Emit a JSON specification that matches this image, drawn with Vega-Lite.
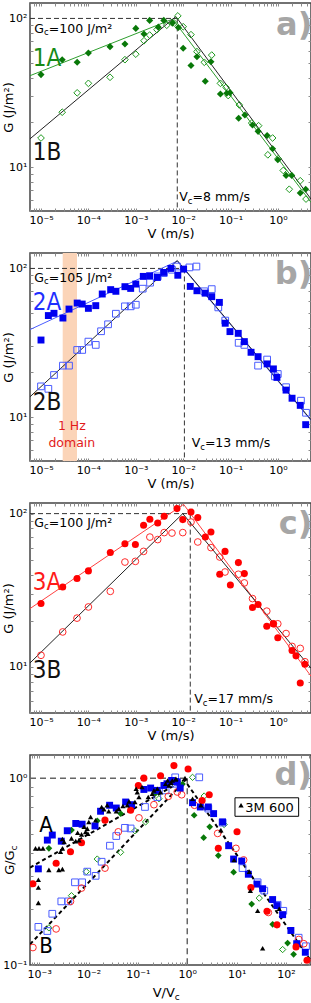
{
"$schema":"https://vega.github.io/schema/vega-lite/v6.json",
"background":"white",
"padding":{"left":1,"top":1,"right":0,"bottom":0},
"bounds":"flush",
"spacing":42,
"resolve":{"scale":{"color":"independent"}},
"config":{
 "view":{"stroke":"#444444","strokeWidth":1.5},
 "font":"DejaVu Sans",
 "axis":{"grid":false,"domain":false,"ticks":true,"tickSize":-3,"tickColor":"#8a8a8a","labelPadding":6,"labelOverlap":false,"labelFlush":false,"labelFont":"DejaVu Sans","labelFontSize":11,"labelColor":"#000000","titleFont":"DejaVu Sans","titleFontSize":13,"titleFontWeight":"normal","titleColor":"#000000"},
 "axisX":{"titlePadding":2}
},
"datasets":{
 "a":[
  {"V":1e-5,"G":41.9,"s":"A"},{"V":2.8e-5,"G":52.8,"s":"A"},{"V":5.8e-5,"G":50.7,"s":"A"},{"V":1e-4,"G":58.5,"s":"A"},{"V":2.86e-4,"G":64.6,"s":"A"},{"V":5.9e-4,"G":67.4,"s":"A"},{"V":1e-3,"G":85.7,"s":"A"},{"V":1.49e-3,"G":78.5,"s":"A"},{"V":1.96e-3,"G":97,"s":"A"},{"V":2.99e-3,"G":87.4,"s":"A"},{"V":3.9e-3,"G":97,"s":"A"},{"V":5.9e-3,"G":93,"s":"A"},{"V":7.9e-3,"G":87,"s":"A"},{"V":0.01,"G":63,"s":"A"},{"V":0.0146,"G":48.2,"s":"A"},{"V":0.0195,"G":55.3,"s":"A"},{"V":0.0292,"G":37.8,"s":"A"},{"V":0.0385,"G":51.2,"s":"A"},{"V":0.061,"G":31.0,"s":"A"},{"V":0.083,"G":31.4,"s":"A"},{"V":0.097,"G":31.7,"s":"A"},{"V":0.148,"G":21.3,"s":"A"},{"V":0.2,"G":22.4,"s":"A"},{"V":0.29,"G":19.2,"s":"A"},{"V":0.38,"G":17.4,"s":"A"},{"V":0.59,"G":16.3,"s":"A"},{"V":0.77,"G":13.3,"s":"A"},{"V":0.99,"G":11.2,"s":"A"},{"V":1.48,"G":8.8,"s":"A"},{"V":1.95,"G":8.8,"s":"A"},{"V":2.95,"G":6.7,"s":"A"},{"V":3.84,"G":7.1,"s":"A"},
  {"V":1e-5,"G":15.7,"s":"B"},{"V":2.8e-5,"G":23.4,"s":"B"},{"V":5.8e-5,"G":31.6,"s":"B"},{"V":1e-4,"G":36.6,"s":"B"},{"V":2.86e-4,"G":40.2,"s":"B"},{"V":5.9e-4,"G":52.8,"s":"B"},{"V":1e-3,"G":57.5,"s":"B"},{"V":1.49e-3,"G":70.8,"s":"B"},{"V":1.96e-3,"G":77.3,"s":"B"},{"V":2.8e-3,"G":84,"s":"B"},{"V":4.5e-3,"G":90,"s":"B"},{"V":6.5e-3,"G":93,"s":"B"},{"V":7.7e-3,"G":104,"s":"B"},{"V":0.01,"G":88,"s":"B"},{"V":0.0146,"G":77.8,"s":"B"},{"V":0.0195,"G":59.8,"s":"B"},{"V":0.0279,"G":50.7,"s":"B"},{"V":0.04,"G":56.7,"s":"B"},{"V":0.061,"G":36.6,"s":"B"},{"V":0.08,"G":34.4,"s":"B"},{"V":0.089,"G":30.3,"s":"B"},{"V":0.153,"G":26.2,"s":"B"},{"V":0.279,"G":19.8,"s":"B"},{"V":0.39,"G":19.0,"s":"B"},{"V":0.61,"G":12.1,"s":"B"},{"V":0.77,"G":15.7,"s":"B"},{"V":1.01,"G":11.4,"s":"B"},{"V":1.29,"G":9.5,"s":"B"},{"V":1.73,"G":7.1,"s":"B"},{"V":2.95,"G":8.1,"s":"B"},{"V":3.9,"G":6.1,"s":"B"}
 ],
 "b":[
  {"V":1e-5,"G":33,"s":"A"},{"V":1.43e-5,"G":48.2,"s":"A"},{"V":1.88e-5,"G":49.9,"s":"A"},{"V":2.9e-5,"G":46.4,"s":"A"},{"V":3.9e-5,"G":53.3,"s":"A"},{"V":5.8e-5,"G":58.5,"s":"A"},{"V":7.4e-5,"G":57.6,"s":"A"},{"V":1e-4,"G":53.9,"s":"A"},{"V":1.43e-4,"G":56.2,"s":"A"},{"V":1.96e-4,"G":67.3,"s":"A"},{"V":2.95e-4,"G":72,"s":"A"},{"V":3.8e-4,"G":70.2,"s":"A"},{"V":5.9e-4,"G":75.4,"s":"A"},{"V":7.8e-4,"G":73.4,"s":"A"},{"V":1e-3,"G":78.5,"s":"A"},{"V":1.44e-3,"G":88.4,"s":"A"},{"V":1.96e-3,"G":89.3,"s":"A"},{"V":2.85e-3,"G":87,"s":"A"},{"V":3.9e-3,"G":94,"s":"A"},{"V":5.5e-3,"G":100,"s":"A"},{"V":7.7e-3,"G":90,"s":"A"},{"V":0.0102,"G":99,"s":"A"},{"V":0.0141,"G":75.7,"s":"A"},{"V":0.0195,"G":70.8,"s":"A"},{"V":0.029,"G":68.2,"s":"A"},{"V":0.04,"G":64.6,"s":"A"},{"V":0.058,"G":59.1,"s":"A"},{"V":0.077,"G":42.8,"s":"A"},{"V":0.097,"G":37.6,"s":"A"},{"V":0.145,"G":36.6,"s":"A"},{"V":0.195,"G":32.2,"s":"A"},{"V":0.27,"G":27.3,"s":"A"},{"V":0.38,"G":25.5,"s":"A"},{"V":0.59,"G":22.8,"s":"A"},{"V":0.8,"G":21.1,"s":"A"},{"V":0.95,"G":18.5,"s":"A"},{"V":1.48,"G":15.2,"s":"A"},{"V":1.98,"G":13.4,"s":"A"},{"V":2.95,"G":12.0,"s":"A"},{"V":3.84,"G":8.9,"s":"A"},
  {"V":1e-5,"G":16.1,"s":"B"},{"V":1.43e-5,"G":15.5,"s":"B"},{"V":1.88e-5,"G":19.2,"s":"B"},{"V":2.9e-5,"G":22.2,"s":"B"},{"V":3.9e-5,"G":22.2,"s":"B"},{"V":5.8e-5,"G":28.3,"s":"B"},{"V":7.4e-5,"G":28.3,"s":"B"},{"V":1e-4,"G":32.2,"s":"B"},{"V":1.43e-4,"G":30.6,"s":"B"},{"V":1.85e-4,"G":37.8,"s":"B"},{"V":2.6e-4,"G":42.1,"s":"B"},{"V":3.8e-4,"G":49.6,"s":"B"},{"V":5.9e-4,"G":55.6,"s":"B"},{"V":7.8e-4,"G":55.6,"s":"B"},{"V":1e-3,"G":57,"s":"B"},{"V":1.4e-3,"G":73.1,"s":"B"},{"V":2.0e-3,"G":80.2,"s":"B"},{"V":2.9e-3,"G":88.4,"s":"B"},{"V":3.9e-3,"G":93,"s":"B"},{"V":5.8e-3,"G":98,"s":"B"},{"V":7.4e-3,"G":103,"s":"B"},{"V":0.0135,"G":101.6,"s":"B"},{"V":0.019,"G":103,"s":"B"},{"V":0.028,"G":70.2,"s":"B"},{"V":0.04,"G":72.6,"s":"B"},{"V":0.055,"G":54.7,"s":"B"},{"V":0.077,"G":44.6,"s":"B"},{"V":0.148,"G":31.6,"s":"B"},{"V":0.195,"G":30.6,"s":"B"},{"V":0.38,"G":22.2,"s":"B"},{"V":0.59,"G":24.4,"s":"B"},{"V":0.86,"G":18.8,"s":"B"},{"V":0.99,"G":19.5,"s":"B"},{"V":1.48,"G":15.9,"s":"B"},{"V":3.05,"G":12.9,"s":"B"},{"V":3.9,"G":10.7,"s":"B"}
 ],
 "c":[
  {"V":1e-5,"G":25.9,"s":"A"},{"V":2.87e-5,"G":33.2,"s":"A"},{"V":5.75e-5,"G":37.7,"s":"A"},{"V":1e-4,"G":42.3,"s":"A"},{"V":2.9e-4,"G":55.7,"s":"A"},{"V":5.9e-4,"G":63.6,"s":"A"},{"V":9.8e-4,"G":62.8,"s":"A"},{"V":1.46e-3,"G":83.9,"s":"A"},{"V":1.98e-3,"G":91.8,"s":"A"},{"V":2.9e-3,"G":86.9,"s":"A"},{"V":3.97e-3,"G":96,"s":"A"},{"V":7.4e-3,"G":107.8,"s":"A"},{"V":9.8e-3,"G":91.4,"s":"A"},{"V":0.0146,"G":102.4,"s":"A"},{"V":0.0203,"G":94.2,"s":"A"},{"V":0.0293,"G":70.3,"s":"A"},{"V":0.0385,"G":75.9,"s":"A"},{"V":0.059,"G":40.2,"s":"A"},{"V":0.0763,"G":56.7,"s":"A"},{"V":0.099,"G":34.2,"s":"A"},{"V":0.146,"G":47.9,"s":"A"},{"V":0.195,"G":40.6,"s":"A"},{"V":0.29,"G":24.4,"s":"A"},{"V":0.38,"G":25.5,"s":"A"},{"V":0.58,"G":18.4,"s":"A"},{"V":0.8,"G":19.1,"s":"A"},{"V":0.99,"G":15.5,"s":"A"},{"V":1.98,"G":12.8,"s":"A"},{"V":2.4,"G":11.8,"s":"A"},{"V":2.95,"G":7.85,"s":"A"},{"V":3.7,"G":10.4,"s":"A"},
  {"V":1e-5,"G":11.9,"s":"B"},{"V":2.87e-5,"G":16.9,"s":"B"},{"V":5.75e-5,"G":20.8,"s":"B"},{"V":1e-4,"G":24.6,"s":"B"},{"V":2.9e-4,"G":31.1,"s":"B"},{"V":5.9e-4,"G":48.3,"s":"B"},{"V":9.8e-4,"G":48.8,"s":"B"},{"V":1.46e-3,"G":56.7,"s":"B"},{"V":1.98e-3,"G":70.3,"s":"B"},{"V":2.9e-3,"G":67.7,"s":"B"},{"V":3.97e-3,"G":75.2,"s":"B"},{"V":5.8e-3,"G":74.7,"s":"B"},{"V":9.8e-3,"G":75.2,"s":"B"},{"V":0.0146,"G":88.1,"s":"B"},{"V":0.0203,"G":65.3,"s":"B"},{"V":0.0385,"G":60,"s":"B"},{"V":0.059,"G":52.1,"s":"B"},{"V":0.0763,"G":41.6,"s":"B"},{"V":0.146,"G":40.2,"s":"B"},{"V":0.195,"G":35.3,"s":"B"},{"V":0.29,"G":27.9,"s":"B"},{"V":0.58,"G":23.1,"s":"B"},{"V":0.8,"G":19.1,"s":"B"},{"V":0.99,"G":19.1,"s":"B"},{"V":1.48,"G":16.5,"s":"B"},{"V":1.98,"G":13.6,"s":"B"},{"V":2.95,"G":13.2,"s":"B"},{"V":3.7,"G":10.8,"s":"B"}
 ],
 "d":[
  {"V":1.57e-3,"G":0.421,"s":"1A"},{"V":4.5e-3,"G":0.527,"s":"1A"},{"V":0.015,"G":0.591,"s":"1A"},{"V":0.0446,"G":0.646,"s":"1A"},{"V":0.229,"G":0.832,"s":"1A"},{"V":0.5,"G":0.95,"s":"1A"},{"V":0.8,"G":0.93,"s":"1A"},{"V":1.38,"G":0.633,"s":"1A"},{"V":2.15,"G":0.48,"s":"1A"},{"V":2.85,"G":0.549,"s":"1A"},{"V":4.26,"G":0.385,"s":"1A"},{"V":8.7,"G":0.314,"s":"1A"},{"V":20.2,"G":0.212,"s":"1A"},{"V":53.8,"G":0.165,"s":"1A"},{"V":108,"G":0.131,"s":"1A"},{"V":143,"G":0.114,"s":"1A"},
  {"V":1.57e-3,"G":0.158,"s":"1B"},{"V":4.5e-3,"G":0.235,"s":"1B"},{"V":8.97e-3,"G":0.316,"s":"1B"},{"V":0.015,"G":0.369,"s":"1B"},{"V":0.0446,"G":0.401,"s":"1B"},{"V":0.087,"G":0.523,"s":"1B"},{"V":0.143,"G":0.583,"s":"1B"},{"V":0.267,"G":0.776,"s":"1B"},{"V":0.7,"G":0.93,"s":"1B"},{"V":1.28,"G":1.01,"s":"1B"},{"V":2.2,"G":0.802,"s":"1B"},{"V":5.6,"G":0.565,"s":"1B"},{"V":28.8,"G":0.228,"s":"1B"},{"V":85.7,"G":0.121,"s":"1B"},
  {"V":9.6e-4,"G":0.327,"s":"2A"},{"V":1.46e-3,"G":0.466,"s":"2A"},{"V":1.84e-3,"G":0.496,"s":"2A"},{"V":2.8e-3,"G":0.46,"s":"2A"},{"V":3.7e-3,"G":0.523,"s":"2A"},{"V":5.5e-3,"G":0.572,"s":"2A"},{"V":7.4e-3,"G":0.567,"s":"2A"},{"V":0.0135,"G":0.555,"s":"2A"},{"V":0.0175,"G":0.665,"s":"2A"},{"V":0.0267,"G":0.716,"s":"2A"},{"V":0.0364,"G":0.692,"s":"2A"},{"V":0.0564,"G":0.745,"s":"2A"},{"V":0.0745,"G":0.721,"s":"2A"},{"V":0.132,"G":0.87,"s":"2A"},{"V":0.181,"G":0.885,"s":"2A"},{"V":0.247,"G":0.86,"s":"2A"},{"V":0.337,"G":0.914,"s":"2A"},{"V":0.388,"G":0.933,"s":"2A"},{"V":0.482,"G":0.972,"s":"2A"},{"V":0.59,"G":0.96,"s":"2A"},{"V":0.628,"G":0.952,"s":"2A"},{"V":0.72,"G":0.885,"s":"2A"},{"V":1.28,"G":0.739,"s":"2A"},{"V":1.84,"G":0.701,"s":"2A"},{"V":2.67,"G":0.701,"s":"2A"},{"V":3.42,"G":0.646,"s":"2A"},{"V":5.2,"G":0.583,"s":"2A"},{"V":6.9,"G":0.435,"s":"2A"},{"V":8.7,"G":0.369,"s":"2A"},{"V":12.7,"G":0.36,"s":"2A"},{"V":17.3,"G":0.306,"s":"2A"},{"V":25.9,"G":0.271,"s":"2A"},{"V":33.7,"G":0.256,"s":"2A"},{"V":53.7,"G":0.224,"s":"2A"},{"V":65.8,"G":0.208,"s":"2A"},{"V":85.7,"G":0.186,"s":"2A"},{"V":126,"G":0.153,"s":"2A"},{"V":165,"G":0.13,"s":"2A"},{"V":247,"G":0.117,"s":"2A"},
  {"V":9.6e-4,"G":0.16,"s":"2B"},{"V":1.46e-3,"G":0.152,"s":"2B"},{"V":1.84e-3,"G":0.188,"s":"2B"},{"V":2.8e-3,"G":0.219,"s":"2B"},{"V":3.9e-3,"G":0.219,"s":"2B"},{"V":5.3e-3,"G":0.277,"s":"2B"},{"V":7.4e-3,"G":0.277,"s":"2B"},{"V":9.4e-3,"G":0.316,"s":"2B"},{"V":0.0139,"G":0.3,"s":"2B"},{"V":0.0184,"G":0.357,"s":"2B"},{"V":0.0271,"G":0.435,"s":"2B"},{"V":0.0364,"G":0.49,"s":"2B"},{"V":0.0546,"G":0.542,"s":"2B"},{"V":0.0711,"G":0.538,"s":"2B"},{"V":0.139,"G":0.701,"s":"2B"},{"V":0.247,"G":0.792,"s":"2B"},{"V":0.364,"G":0.86,"s":"2B"},{"V":0.57,"G":1.01,"s":"2B"},{"V":0.58,"G":0.933,"s":"2B"},{"V":1.75,"G":1.01,"s":"2B"},{"V":2.67,"G":0.687,"s":"2B"},{"V":5.2,"G":0.578,"s":"2B"},{"V":13.2,"G":0.33,"s":"2B"},{"V":26.7,"G":0.277,"s":"2B"},{"V":36.4,"G":0.25,"s":"2B"},{"V":67.8,"G":0.21,"s":"2B"},{"V":88.3,"G":0.195,"s":"2B"},{"V":181,"G":0.14,"s":"2B"},{"V":255,"G":0.126,"s":"2B"},
  {"V":7.45e-4,"G":0.272,"s":"3A"},{"V":2.2e-3,"G":0.35,"s":"3A"},{"V":4.3e-3,"G":0.404,"s":"3A"},{"V":7.2e-3,"G":0.451,"s":"3A"},{"V":0.0215,"G":0.596,"s":"3A"},{"V":0.0711,"G":0.673,"s":"3A"},{"V":0.102,"G":0.914,"s":"3A"},{"V":0.132,"G":1.0,"s":"3A"},{"V":0.288,"G":1.03,"s":"3A"},{"V":0.537,"G":1.167,"s":"3A"},{"V":1.04,"G":1.12,"s":"3A"},{"V":2.0,"G":0.76,"s":"3A"},{"V":2.79,"G":0.815,"s":"3A"},{"V":4.26,"G":0.421,"s":"3A"},{"V":10.2,"G":0.516,"s":"3A"},{"V":19.5,"G":0.26,"s":"3A"},{"V":41.3,"G":0.194,"s":"3A"},{"V":65.8,"G":0.164,"s":"3A"},{"V":160,"G":0.125,"s":"3A"},{"V":267,"G":0.106,"s":"3A"},
  {"V":7.45e-4,"G":0.124,"s":"3B"},{"V":2.2e-3,"G":0.156,"s":"3B"},{"V":4.3e-3,"G":0.219,"s":"3B"},{"V":7.2e-3,"G":0.258,"s":"3B"},{"V":0.0215,"G":0.33,"s":"3B"},{"V":0.04,"G":0.516,"s":"3B"},{"V":0.105,"G":0.613,"s":"3B"},{"V":0.211,"G":0.721,"s":"3B"},{"V":0.413,"G":0.799,"s":"3B"},{"V":0.628,"G":0.843,"s":"3B"},{"V":0.77,"G":0.815,"s":"3B"},{"V":1.4,"G":0.716,"s":"3B"},{"V":4.13,"G":0.506,"s":"3B"},{"V":9.7,"G":0.421,"s":"3B"},{"V":13.9,"G":0.365,"s":"3B"},{"V":44,"G":0.191,"s":"3B"},{"V":182,"G":0.137,"s":"3B"},{"V":230,"G":0.13,"s":"3B"},
  {"V":8.4e-4,"G":0.421,"s":"M"},{"V":9.9e-4,"G":0.421,"s":"M"},{"V":1.19e-3,"G":0.421,"s":"M"},{"V":9.6e-4,"G":0.286,"s":"M"},{"V":9.6e-4,"G":0.26,"s":"M"},{"V":9.6e-4,"G":0.215,"s":"M"},{"V":1.57e-3,"G":0.323,"s":"M"},{"V":2.5e-3,"G":0.323,"s":"M"},{"V":2.95e-3,"G":0.326,"s":"M"},{"V":2.7e-3,"G":0.404,"s":"M"},{"V":2.95e-3,"G":0.421,"s":"M"},{"V":3.2e-3,"G":0.456,"s":"M"},{"V":2.95e-3,"G":0.472,"s":"M"},{"V":4.5e-3,"G":0.476,"s":"M"},{"V":5.5e-3,"G":0.46,"s":"M"},{"V":6.4e-3,"G":0.466,"s":"M"},{"V":6.0e-3,"G":0.51,"s":"M"},{"V":7.2e-3,"G":0.5,"s":"M"},{"V":8.1e-3,"G":0.549,"s":"M"},{"V":9.4e-3,"G":0.537,"s":"M"},{"V":8.7e-3,"G":0.516,"s":"M"},{"V":9.7e-3,"G":0.505,"s":"M"},{"V":0.0101,"G":0.583,"s":"M"},{"V":0.011,"G":0.62,"s":"M"},{"V":0.0139,"G":0.595,"s":"M"},{"V":0.0184,"G":0.701,"s":"M"},{"V":0.0205,"G":0.681,"s":"M"},{"V":0.0238,"G":0.716,"s":"M"},{"V":0.0256,"G":0.665,"s":"M"},{"V":0.0364,"G":0.665,"s":"M"},{"V":0.041,"G":0.686,"s":"M"},{"V":0.0497,"G":0.71,"s":"M"},{"V":0.061,"G":0.716,"s":"M"},{"V":0.066,"G":0.751,"s":"M"},{"V":0.087,"G":0.745,"s":"M"},{"V":0.097,"G":0.842,"s":"M"},{"V":0.105,"G":0.792,"s":"M"},{"V":0.092,"G":0.877,"s":"M"},{"V":0.121,"G":0.896,"s":"M"},{"V":0.162,"G":0.792,"s":"M"},{"V":0.195,"G":0.825,"s":"M"},{"V":0.211,"G":0.86,"s":"M"},{"V":0.247,"G":0.877,"s":"M"},{"V":0.288,"G":0.842,"s":"M"},{"V":0.364,"G":0.933,"s":"M"},{"V":0.425,"G":0.914,"s":"M"},{"V":0.497,"G":0.972,"s":"M"},{"V":0.58,"G":0.984,"s":"M"},{"V":0.4,"G":0.972,"s":"M"},{"V":0.468,"G":0.944,"s":"M"},{"V":0.59,"G":0.992,"s":"M"},{"V":0.9,"G":1.0,"s":"M"},{"V":1.28,"G":0.776,"s":"M"},{"V":1.89,"G":0.716,"s":"M"},{"V":4.8,"G":0.527,"s":"M"},{"V":8.9,"G":0.365,"s":"M"},{"V":18.1,"G":0.316,"s":"M"},{"V":19,"G":0.25,"s":"M"},{"V":26.7,"G":0.195,"s":"M"},{"V":33.7,"G":0.123,"s":"M"},{"V":73,"G":0.2,"s":"M"}
 ]
},
"vconcat":[
 {
  "width":281,"height":208,
  "resolve":{"axis":{"x":"independent","y":"independent"}},
  "layer":[
  {
  "encoding":{
   "x":{"field":"V","type":"quantitative","scale":{"type":"log","domain":[5.86e-6,4.97],"nice":false},"axis":{"values":[6e-6,7e-6,8e-6,9e-6,1e-5,2e-5,3e-5,4e-5,5e-5,6e-5,7e-5,8e-5,9e-5,1e-4,2e-4,3e-4,4e-4,5e-4,6e-4,7e-4,8e-4,9e-4,0.001,0.002,0.003,0.004,0.005,0.006,0.007,0.008,0.009,0.01,0.02,0.03,0.04,0.05,0.06,0.07,0.08,0.09,0.1,0.2,0.3,0.4,0.5,0.6,0.7,0.8,0.9,1,2,3,4],"labelExpr":"abs(log(datum.value)/LN10-round(log(datum.value)/LN10))<0.001 ? '10'+replace(replace(replace(replace(replace(replace(replace(''+round(log(datum.value)/LN10),'-','⁻'),'0','⁰'),'1','¹'),'2','²'),'3','³'),'4','⁴'),'5','⁵') : ''","title":"V (m/s)"}},
   "y":{"field":"G","type":"quantitative","scale":{"type":"log","domain":[5.07,127],"nice":false},"axis":{"values":[6,7,8,9,10,20,30,40,50,60,70,80,90,100],"labelExpr":"abs(log(datum.value)/LN10-round(log(datum.value)/LN10))<0.001 ? '10'+replace(replace(replace(replace(replace(replace(replace(''+round(log(datum.value)/LN10),'-','⁻'),'0','⁰'),'1','¹'),'2','²'),'3','³'),'4','⁴'),'5','⁵') : ''","title":"G (J/m²)","titleX":-15}}
  },
  "layer":[
   {"data":{"values":[{"V":5.86e-6,"G":100,"g":"h"},{"V":0.0075,"G":100,"g":"h"},{"V":0.0075,"G":100,"g":"v"},{"V":0.0075,"G":5.07,"g":"v"}]},"mark":{"type":"line","color":"#333333","strokeDash":[5,3],"strokeWidth":1,"clip":true},"encoding":{"detail":{"field":"g"}}},
   {"data":{"values":[{"V":5.86e-6,"G":41.2,"s":"A1"},{"V":0.006,"G":99,"s":"A1"},{"V":4.97,"G":5.8,"s":"A1"},{"V":5.86e-6,"G":15.5,"s":"B1"},{"V":0.007,"G":103,"s":"B1"},{"V":4.97,"G":6.1,"s":"B1"}]},"mark":{"type":"line","strokeWidth":1,"clip":true},"encoding":{"color":{"field":"s","type":"nominal","scale":{"domain":["A1","B1"],"range":["#2e9e2e","#222222"]},"legend":null}}},
   {"data":{"name":"a"},"transform":[{"filter":"datum.s=='B'"}],"mark":{"type":"point","shape":"diamond","filled":false,"stroke":"#1f9a1f","strokeWidth":1,"size":45,"opacity":1,"clip":true}},
   {"data":{"name":"a"},"transform":[{"filter":"datum.s=='A'"}],"mark":{"type":"point","shape":"diamond","filled":true,"color":"#087808","size":50,"opacity":1,"clip":true}},
   {"data":{"values":[{"V":7.22e-6,"G":79.6,"t":"G"},{"V":1.462e-5,"G":79.6,"t":"=100 J/m²"},{"V":8.28e-3,"G":5.89,"t":"V"},{"V":0.0157,"G":5.89,"t":"=8 mm/s"}]},"mark":{"type":"text","align":"left","baseline":"alphabetic","fontSize":12.5,"color":"#000000"},"encoding":{"text":{"field":"t"}}},
   {"data":{"values":[{"V":1.157e-5,"G":76.9,"t":"c"},{"V":0.01253,"G":5.69,"t":"c"}]},"mark":{"type":"text","align":"left","baseline":"alphabetic","fontSize":8.5,"color":"#000000"},"encoding":{"text":{"field":"t"}}},
   {"data":{"values":[{"V":6.68e-6,"G":47.6,"t":"1A"}]},"mark":{"type":"text","align":"left","baseline":"alphabetic","fontSize":24,"color":"#168a16","font":"Liberation Sans Narrow, DejaVu Sans Condensed, sans-serif"},"encoding":{"text":{"field":"t"}}},
   {"data":{"values":[{"V":6.68e-6,"G":11.1,"t":"1B"}]},"mark":{"type":"text","align":"left","baseline":"alphabetic","fontSize":24,"color":"#111111","font":"Liberation Sans Narrow, DejaVu Sans Condensed, sans-serif"},"encoding":{"text":{"field":"t"}}},
   {"data":{"values":[{"V":5.3,"G":76.9,"t":"a)"}]},"mark":{"type":"text","align":"right","baseline":"alphabetic","fontSize":32,"fontWeight":"bold","color":"#a6a6a6","clip":true},"encoding":{"text":{"field":"t"}}}
  ]
  },
  {"data":{"values":[{"V":0.01,"G":10}]},"mark":{"type":"point","opacity":0},"encoding":{
   "x":{"field":"V","type":"quantitative","scale":{"type":"log","domain":[5.86e-6,4.97],"nice":false},"axis":{"orient":"top","labels":false,"title":null,"values":[6e-6,7e-6,8e-6,9e-6,1e-5,2e-5,3e-5,4e-5,5e-5,6e-5,7e-5,8e-5,9e-5,1e-4,2e-4,3e-4,4e-4,5e-4,6e-4,7e-4,8e-4,9e-4,0.001,0.002,0.003,0.004,0.005,0.006,0.007,0.008,0.009,0.01,0.02,0.03,0.04,0.05,0.06,0.07,0.08,0.09,0.1,0.2,0.3,0.4,0.5,0.6,0.7,0.8,0.9,1,2,3,4]}},
   "y":{"field":"G","type":"quantitative","scale":{"type":"log","domain":[5.07,127],"nice":false},"axis":{"orient":"right","labels":false,"title":null,"values":[6,7,8,9,10,20,30,40,50,60,70,80,90,100]}}}}
  ]
 },
 {
  "width":281,"height":208,
  "resolve":{"axis":{"x":"independent","y":"independent"}},
  "layer":[
  {
  "encoding":{
   "x":{"field":"V","type":"quantitative","scale":{"type":"log","domain":[5.86e-6,4.97],"nice":false},"axis":{"values":[6e-6,7e-6,8e-6,9e-6,1e-5,2e-5,3e-5,4e-5,5e-5,6e-5,7e-5,8e-5,9e-5,1e-4,2e-4,3e-4,4e-4,5e-4,6e-4,7e-4,8e-4,9e-4,0.001,0.002,0.003,0.004,0.005,0.006,0.007,0.008,0.009,0.01,0.02,0.03,0.04,0.05,0.06,0.07,0.08,0.09,0.1,0.2,0.3,0.4,0.5,0.6,0.7,0.8,0.9,1,2,3,4],"labelExpr":"abs(log(datum.value)/LN10-round(log(datum.value)/LN10))<0.001 ? '10'+replace(replace(replace(replace(replace(replace(replace(''+round(log(datum.value)/LN10),'-','⁻'),'0','⁰'),'1','¹'),'2','²'),'3','³'),'4','⁴'),'5','⁵') : ''","title":"V (m/s)"}},
   "y":{"field":"G","type":"quantitative","scale":{"type":"log","domain":[5.07,127],"nice":false},"axis":{"values":[6,7,8,9,10,20,30,40,50,60,70,80,90,100],"labelExpr":"abs(log(datum.value)/LN10-round(log(datum.value)/LN10))<0.001 ? '10'+replace(replace(replace(replace(replace(replace(replace(''+round(log(datum.value)/LN10),'-','⁻'),'0','⁰'),'1','¹'),'2','²'),'3','³'),'4','⁴'),'5','⁵') : ''","title":"G (J/m²)","titleX":-15}}
  },
  "layer":[
   {"data":{"values":[{"V":2.87e-5,"V2":5.75e-5,"G":5.07,"G2":127}]},"mark":{"type":"rect","color":"#fbd4b8","opacity":1},"encoding":{"x2":{"field":"V2"},"y2":{"field":"G2"}}},
   {"data":{"values":[{"V":5.86e-6,"G":100,"g":"h"},{"V":0.0106,"G":100,"g":"h"},{"V":0.0106,"G":100,"g":"v"},{"V":0.0106,"G":5.07,"g":"v"}]},"mark":{"type":"line","color":"#333333","strokeDash":[5,3],"strokeWidth":1,"clip":true},"encoding":{"detail":{"field":"g"}}},
   {"data":{"values":[{"V":5.86e-6,"G":38.8,"s":"A2"},{"V":0.0075,"G":112,"s":"A2"},{"V":4.97,"G":9.5,"s":"A2"},{"V":5.86e-6,"G":13.7,"s":"B2"},{"V":0.0075,"G":113,"s":"B2"},{"V":4.97,"G":9.6,"s":"B2"}]},"mark":{"type":"line","strokeWidth":1,"clip":true},"encoding":{"color":{"field":"s","type":"nominal","scale":{"domain":["A2","B2"],"range":["#4a5cff","#222222"]},"legend":null}}},
   {"data":{"name":"b"},"transform":[{"filter":"datum.s=='B'"}],"mark":{"type":"point","shape":"square","filled":false,"stroke":"#4a5cff","strokeWidth":1,"size":45,"opacity":1,"clip":true}},
   {"data":{"name":"b"},"transform":[{"filter":"datum.s=='A'"}],"mark":{"type":"point","shape":"square","filled":true,"color":"#0000f0","size":48,"opacity":1,"clip":true}},
   {"data":{"values":[{"V":7.22e-6,"G":81.0,"t":"G"},{"V":1.462e-5,"G":81.0,"t":"=105 J/m²"},{"V":0.0151,"G":6.27,"t":"V"},{"V":0.0287,"G":6.27,"t":"=13 mm/s"}]},"mark":{"type":"text","align":"left","baseline":"alphabetic","fontSize":12.5,"color":"#000000"},"encoding":{"text":{"field":"t"}}},
   {"data":{"values":[{"V":1.157e-5,"G":78.2,"t":"c"},{"V":0.0229,"G":6.05,"t":"c"}]},"mark":{"type":"text","align":"left","baseline":"alphabetic","fontSize":8.5,"color":"#000000"},"encoding":{"text":{"field":"t"}}},
   {"data":{"values":[{"V":4.47e-5,"G":8.18,"t":"1 Hz"},{"V":4.47e-5,"G":6.27,"t":"domain"}]},"mark":{"type":"text","align":"center","baseline":"alphabetic","fontSize":12.5,"color":"#e21a1a"},"encoding":{"text":{"field":"t"}}},
   {"data":{"values":[{"V":6.68e-6,"G":52.3,"t":"2A"}]},"mark":{"type":"text","align":"left","baseline":"alphabetic","fontSize":24,"color":"#1f2fff","font":"Liberation Sans Narrow, DejaVu Sans Condensed, sans-serif"},"encoding":{"text":{"field":"t"}}},
   {"data":{"values":[{"V":6.68e-6,"G":11.1,"t":"2B"}]},"mark":{"type":"text","align":"left","baseline":"alphabetic","fontSize":24,"color":"#111111","font":"Liberation Sans Narrow, DejaVu Sans Condensed, sans-serif"},"encoding":{"text":{"field":"t"}}},
   {"data":{"values":[{"V":5.3,"G":78.9,"t":"b)"}]},"mark":{"type":"text","align":"right","baseline":"alphabetic","fontSize":32,"fontWeight":"bold","color":"#a6a6a6","clip":true},"encoding":{"text":{"field":"t"}}}
  ]
  },
  {"data":{"values":[{"V":0.01,"G":10}]},"mark":{"type":"point","opacity":0},"encoding":{
   "x":{"field":"V","type":"quantitative","scale":{"type":"log","domain":[5.86e-6,4.97],"nice":false},"axis":{"orient":"top","labels":false,"title":null,"values":[6e-6,7e-6,8e-6,9e-6,1e-5,2e-5,3e-5,4e-5,5e-5,6e-5,7e-5,8e-5,9e-5,1e-4,2e-4,3e-4,4e-4,5e-4,6e-4,7e-4,8e-4,9e-4,0.001,0.002,0.003,0.004,0.005,0.006,0.007,0.008,0.009,0.01,0.02,0.03,0.04,0.05,0.06,0.07,0.08,0.09,0.1,0.2,0.3,0.4,0.5,0.6,0.7,0.8,0.9,1,2,3,4]}},
   "y":{"field":"G","type":"quantitative","scale":{"type":"log","domain":[5.07,127],"nice":false},"axis":{"orient":"right","labels":false,"title":null,"values":[6,7,8,9,10,20,30,40,50,60,70,80,90,100]}}}}
  ]
 },
 {
  "width":281,"height":210,
  "resolve":{"axis":{"x":"independent","y":"independent"}},
  "layer":[
  {
  "encoding":{
   "x":{"field":"V","type":"quantitative","scale":{"type":"log","domain":[5.86e-6,4.97],"nice":false},"axis":{"values":[6e-6,7e-6,8e-6,9e-6,1e-5,2e-5,3e-5,4e-5,5e-5,6e-5,7e-5,8e-5,9e-5,1e-4,2e-4,3e-4,4e-4,5e-4,6e-4,7e-4,8e-4,9e-4,0.001,0.002,0.003,0.004,0.005,0.006,0.007,0.008,0.009,0.01,0.02,0.03,0.04,0.05,0.06,0.07,0.08,0.09,0.1,0.2,0.3,0.4,0.5,0.6,0.7,0.8,0.9,1,2,3,4],"labelExpr":"abs(log(datum.value)/LN10-round(log(datum.value)/LN10))<0.001 ? '10'+replace(replace(replace(replace(replace(replace(replace(''+round(log(datum.value)/LN10),'-','⁻'),'0','⁰'),'1','¹'),'2','²'),'3','³'),'4','⁴'),'5','⁵') : ''","title":"V (m/s)"}},
   "y":{"field":"G","type":"quantitative","scale":{"type":"log","domain":[5.0,117.3],"nice":false},"axis":{"values":[6,7,8,9,10,20,30,40,50,60,70,80,90,100],"labelExpr":"abs(log(datum.value)/LN10-round(log(datum.value)/LN10))<0.001 ? '10'+replace(replace(replace(replace(replace(replace(replace(''+round(log(datum.value)/LN10),'-','⁻'),'0','⁰'),'1','¹'),'2','²'),'3','³'),'4','⁴'),'5','⁵') : ''","title":"G (J/m²)","titleX":-15}}
  },
  "layer":[
   {"data":{"values":[{"V":5.86e-6,"G":100,"g":"h"},{"V":0.0141,"G":100,"g":"h"},{"V":0.0141,"G":100,"g":"v"},{"V":0.0141,"G":5.0,"g":"v"}]},"mark":{"type":"line","color":"#333333","strokeDash":[5,3],"strokeWidth":1,"clip":true},"encoding":{"detail":{"field":"g"}}},
   {"data":{"values":[{"V":5.86e-6,"G":24,"s":"A3"},{"V":0.0102,"G":115,"s":"A3"},{"V":4.97,"G":8.7,"s":"A3"},{"V":5.86e-6,"G":10.6,"s":"B3"},{"V":0.0098,"G":100,"s":"B3"},{"V":4.97,"G":9.8,"s":"B3"}]},"mark":{"type":"line","strokeWidth":1,"clip":true},"encoding":{"color":{"field":"s","type":"nominal","scale":{"domain":["A3","B3"],"range":["#ff4040","#222222"]},"legend":null}}},
   {"data":{"name":"c"},"transform":[{"filter":"datum.s=='B'"}],"mark":{"type":"point","shape":"circle","filled":false,"stroke":"#ff2a2a","strokeWidth":1,"size":45,"opacity":1,"clip":true}},
   {"data":{"name":"c"},"transform":[{"filter":"datum.s=='A'"}],"mark":{"type":"point","shape":"circle","filled":true,"color":"#ff0000","size":50,"opacity":1,"clip":true}},
   {"data":{"values":[{"V":7.22e-6,"G":81.8,"t":"G"},{"V":1.462e-5,"G":81.8,"t":"=100 J/m²"},{"V":0.01714,"G":5.77,"t":"V"},{"V":0.0326,"G":5.77,"t":"=17 mm/s"}]},"mark":{"type":"text","align":"left","baseline":"alphabetic","fontSize":12.5,"color":"#000000"},"encoding":{"text":{"field":"t"}}},
   {"data":{"values":[{"V":1.157e-5,"G":79.1,"t":"c"},{"V":0.026,"G":5.57,"t":"c"}]},"mark":{"type":"text","align":"left","baseline":"alphabetic","fontSize":8.5,"color":"#000000"},"encoding":{"text":{"field":"t"}}},
   {"data":{"values":[{"V":6.68e-6,"G":31.6,"t":"3A"}]},"mark":{"type":"text","align":"left","baseline":"alphabetic","fontSize":24,"color":"#ff1a1a","font":"Liberation Sans Narrow, DejaVu Sans Condensed, sans-serif"},"encoding":{"text":{"field":"t"}}},
   {"data":{"values":[{"V":6.68e-6,"G":8.4,"t":"3B"}]},"mark":{"type":"text","align":"left","baseline":"alphabetic","fontSize":24,"color":"#111111","font":"Liberation Sans Narrow, DejaVu Sans Condensed, sans-serif"},"encoding":{"text":{"field":"t"}}},
   {"data":{"values":[{"V":5.3,"G":74.1,"t":"c)"}]},"mark":{"type":"text","align":"right","baseline":"alphabetic","fontSize":32,"fontWeight":"bold","color":"#a6a6a6","clip":true},"encoding":{"text":{"field":"t"}}}
  ]
  },
  {"data":{"values":[{"V":0.01,"G":10}]},"mark":{"type":"point","opacity":0},"encoding":{
   "x":{"field":"V","type":"quantitative","scale":{"type":"log","domain":[5.86e-6,4.97],"nice":false},"axis":{"orient":"top","labels":false,"title":null,"values":[6e-6,7e-6,8e-6,9e-6,1e-5,2e-5,3e-5,4e-5,5e-5,6e-5,7e-5,8e-5,9e-5,1e-4,2e-4,3e-4,4e-4,5e-4,6e-4,7e-4,8e-4,9e-4,0.001,0.002,0.003,0.004,0.005,0.006,0.007,0.008,0.009,0.01,0.02,0.03,0.04,0.05,0.06,0.07,0.08,0.09,0.1,0.2,0.3,0.4,0.5,0.6,0.7,0.8,0.9,1,2,3,4]}},
   "y":{"field":"G","type":"quantitative","scale":{"type":"log","domain":[5.0,117.3],"nice":false},"axis":{"orient":"right","labels":false,"title":null,"values":[6,7,8,9,10,20,30,40,50,60,70,80,90,100]}}}}
  ]
 },
 {
  "width":281,"height":210,
  "resolve":{"axis":{"x":"independent","y":"independent"}},
  "layer":[
  {
  "encoding":{
   "x":{"field":"V","type":"quantitative","scale":{"type":"log","domain":[6.5e-4,322],"nice":false},"axis":{"values":[7e-4,8e-4,9e-4,0.001,0.002,0.003,0.004,0.005,0.006,0.007,0.008,0.009,0.01,0.02,0.03,0.04,0.05,0.06,0.07,0.08,0.09,0.1,0.2,0.3,0.4,0.5,0.6,0.7,0.8,0.9,1,2,3,4,5,6,7,8,9,10,20,30,40,50,60,70,80,90,100,200,300],"labelExpr":"abs(log(datum.value)/LN10-round(log(datum.value)/LN10))<0.001 ? '10'+replace(replace(replace(replace(replace(replace(replace(''+round(log(datum.value)/LN10),'-','⁻'),'0','⁰'),'1','¹'),'2','²'),'3','³'),'4','⁴'),'5','⁵') : ''","title":null}},
   "y":{"field":"G","type":"quantitative","scale":{"type":"log","domain":[0.1,1.33],"nice":false},"axis":{"values":[0.1,0.2,0.3,0.4,0.5,0.6,0.7,0.8,0.9,1],"labelExpr":"abs(log(datum.value)/LN10-round(log(datum.value)/LN10))<0.001 ? '10'+replace(replace(replace(replace(replace(replace(replace(''+round(log(datum.value)/LN10),'-','⁻'),'0','⁰'),'1','¹'),'2','²'),'3','³'),'4','⁴'),'5','⁵') : ''","title":null}}
  },
  "layer":[
   {"data":{"values":[{"V":6.5e-4,"G":1,"g":"h"},{"V":1,"G":1,"g":"h"},{"V":1,"G":1,"g":"v"},{"V":1,"G":0.1,"g":"v"}]},"mark":{"type":"line","color":"#666666","strokeDash":[6,4],"strokeWidth":1.5,"clip":true},"encoding":{"detail":{"field":"g"}}},
   {"data":{"values":[{"V":6.5e-4,"G":0.332,"g":"A"},{"V":1,"G":1,"g":"A"},{"V":6.5e-4,"G":0.129,"g":"B"},{"V":1,"G":1,"g":"B"},{"V":1,"G":0.93,"g":"R"},{"V":322,"G":0.105,"g":"R"}]},"mark":{"type":"line","color":"#000000","strokeDash":[4,3],"strokeWidth":2,"clip":true},"encoding":{"detail":{"field":"g"}}},
   {"data":{"name":"d"},"transform":[{"filter":"datum.s=='1B'"}],"mark":{"type":"point","shape":"diamond","filled":false,"stroke":"#1f9a1f","strokeWidth":1,"size":40,"opacity":1,"clip":true}},
   {"data":{"name":"d"},"transform":[{"filter":"datum.s=='2B'"}],"mark":{"type":"point","shape":"square","filled":false,"stroke":"#4a5cff","strokeWidth":1,"size":45,"opacity":1,"clip":true}},
   {"data":{"name":"d"},"transform":[{"filter":"datum.s=='3B'"}],"mark":{"type":"point","shape":"circle","filled":false,"stroke":"#ff2a2a","strokeWidth":1,"size":45,"opacity":1,"clip":true}},
   {"data":{"name":"d"},"transform":[{"filter":"datum.s=='1A'"}],"mark":{"type":"point","shape":"diamond","filled":true,"color":"#087808","size":45,"opacity":1,"clip":true}},
   {"data":{"name":"d"},"transform":[{"filter":"datum.s=='2A'"}],"mark":{"type":"point","shape":"square","filled":true,"color":"#0000f0","size":48,"opacity":1,"clip":true}},
   {"data":{"name":"d"},"transform":[{"filter":"datum.s=='3A'"}],"mark":{"type":"point","shape":"circle","filled":true,"color":"#ff0000","size":50,"opacity":1,"clip":true}},
   {"data":{"name":"d"},"transform":[{"filter":"datum.s=='M'"}],"mark":{"type":"point","shape":"triangle-up","filled":true,"color":"#000000","size":28,"opacity":1,"clip":true}},
   {"data":{"values":[{"V":9.27,"V2":181,"G":0.625,"G2":0.785}]},"mark":{"type":"rect","fill":"#ffffff","stroke":"#000000","strokeWidth":1},"encoding":{"x2":{"field":"V2"},"y2":{"field":"G2"}}},
   {"data":{"values":[{"V":12.3,"G":0.716}]},"mark":{"type":"point","shape":"triangle-up","filled":true,"color":"#000000","size":28,"opacity":1}},
   {"data":{"values":[{"V":15.0,"G":0.659,"t":"3M 600"}]},"mark":{"type":"text","align":"left","baseline":"alphabetic","fontSize":13,"color":"#000000"},"encoding":{"text":{"field":"t"}}},
   {"data":{"values":[{"V":1e-3,"G":0.516,"t":"A"},{"V":1e-3,"G":0.116,"t":"B"}]},"mark":{"type":"text","align":"left","baseline":"alphabetic","fontSize":22,"color":"#000000","font":"Liberation Sans Narrow, DejaVu Sans Condensed, sans-serif"},"encoding":{"text":{"field":"t"}}},
   {"data":{"values":[{"V":337,"G":0.914,"t":"d)"}]},"mark":{"type":"text","align":"right","baseline":"alphabetic","fontSize":32,"fontWeight":"bold","color":"#a6a6a6","clip":true},"encoding":{"text":{"field":"t"}}},
   {"data":{"values":[{"V":0.199,"G":0.0675,"t":"V/V"}]},"mark":{"type":"text","align":"left","baseline":"alphabetic","fontSize":13,"color":"#000000"},"encoding":{"text":{"field":"t"}}},
   {"data":{"values":[{"V":0.56,"G":0.0652,"t":"c"}]},"mark":{"type":"text","align":"left","baseline":"alphabetic","fontSize":9,"color":"#000000"},"encoding":{"text":{"field":"t"}}},
   {"data":{"values":[{"V":3.11e-4,"G":0.3037,"t":"G/G"}]},"mark":{"type":"text","align":"left","baseline":"alphabetic","angle":270,"fontSize":13,"color":"#000000"},"encoding":{"text":{"field":"t"}}},
   {"data":{"values":[{"V":3.5e-4,"G":0.41,"t":"c"}]},"mark":{"type":"text","align":"left","baseline":"alphabetic","angle":270,"fontSize":9,"color":"#000000"},"encoding":{"text":{"field":"t"}}}
  ]
  },
  {"data":{"values":[{"V":1,"G":0.5}]},"mark":{"type":"point","opacity":0},"encoding":{
   "x":{"field":"V","type":"quantitative","scale":{"type":"log","domain":[6.5e-4,322],"nice":false},"axis":{"orient":"top","labels":false,"title":null,"values":[7e-4,8e-4,9e-4,0.001,0.002,0.003,0.004,0.005,0.006,0.007,0.008,0.009,0.01,0.02,0.03,0.04,0.05,0.06,0.07,0.08,0.09,0.1,0.2,0.3,0.4,0.5,0.6,0.7,0.8,0.9,1,2,3,4,5,6,7,8,9,10,20,30,40,50,60,70,80,90,100,200,300]}},
   "y":{"field":"G","type":"quantitative","scale":{"type":"log","domain":[0.1,1.33],"nice":false},"axis":{"orient":"right","labels":false,"title":null,"values":[0.1,0.2,0.3,0.4,0.5,0.6,0.7,0.8,0.9,1]}}}}
  ]
 }
]
}
